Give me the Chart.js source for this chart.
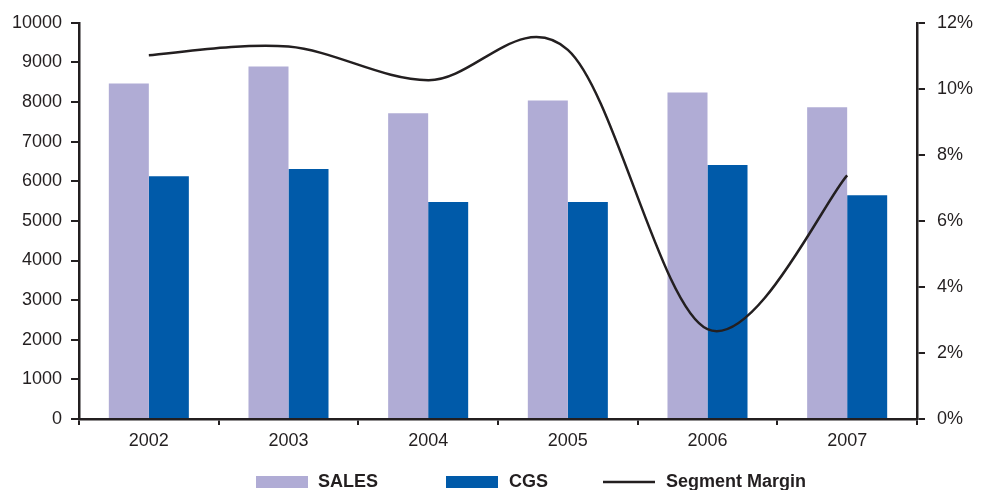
<!DOCTYPE html>
<html>
<head>
<meta charset="utf-8">
<script src="https://cdn.jsdelivr.net/npm/chart.js@4/dist/chart.umd.min.js"></script>
<style>
  html, body { margin: 0; padding: 0; background: #ffffff; }
  #wrap { width: 987px; height: 490px; position: relative; }
</style>
</head>
<body>
<div id="wrap"><canvas id="c" width="987" height="490"></canvas></div>
<script>
const categories = ['2002', '2003', '2004', '2005', '2006', '2007'];
const sales = [8470, 8900, 7720, 8040, 8240, 7870];
const cgs = [6130, 6310, 5480, 5480, 6410, 5650];
const segmentMargin = [0.1102, 0.1128, 0.1026, 0.1118, 0.0272, 0.0738];
const leftTicks = [0, 1000, 2000, 3000, 4000, 5000, 6000, 7000, 8000, 9000, 10000];
const rightTicks = [0, 0.02, 0.04, 0.06, 0.08, 0.10, 0.12];
const seriesNames = ['SALES', 'CGS', 'Segment Margin'];

const INK = '#231f20';
const SALES_COLOR = '#b0acd5';
const CGS_COLOR = '#005aa9';
const FONT = 'Liberation Sans, Arial, sans-serif';

// Excel-style smoothing: uniform Catmull-Rom control points on the library's own point positions
const smoothPlugin = {
  id: 'excelSmooth',
  beforeDatasetDraw(chart, args) {
    const meta = args.meta;
    if (meta.type !== 'line') return;
    const line = meta.dataset;
    line.updateControlPoints(chart.chartArea, 'x');
    const pts = meta.data;
    const n = pts.length;
    for (let i = 0; i < n; i++) {
      const p = pts[i];
      const prev = pts[Math.max(0, i - 1)];
      const next = pts[Math.min(n - 1, i + 1)];
      const dx = (next.x - prev.x) / 6;
      const dy = (next.y - prev.y) / 6;
      p.cp1x = p.x - dx; p.cp1y = p.y - dy;
      p.cp2x = p.x + dx; p.cp2y = p.y + dy;
    }
    line._path = undefined;
  }
};

const legendPlugin = {
  id: 'customLegend',
  afterDraw(chart) {
    const ctx = chart.ctx;
    ctx.save();
    ctx.font = 'bold 18px ' + FONT;
    ctx.textBaseline = 'middle';
    const y = 482;
    ctx.fillStyle = SALES_COLOR;
    ctx.fillRect(256, 476, 52, 12);
    ctx.fillStyle = INK;
    ctx.fillText(seriesNames[0], 318, y);
    ctx.fillStyle = CGS_COLOR;
    ctx.fillRect(446, 476, 52, 12);
    ctx.fillStyle = INK;
    ctx.fillText(seriesNames[1], 509, y);
    ctx.strokeStyle = INK;
    ctx.lineWidth = 2.5;
    ctx.beginPath();
    ctx.moveTo(603, y);
    ctx.lineTo(655, y);
    ctx.stroke();
    ctx.fillText(seriesNames[2], 666, y);
    ctx.restore();
  }
};

new Chart(document.getElementById('c'), {
  data: {
    labels: categories,
    datasets: [
      {
        type: 'line',
        label: seriesNames[2],
        data: segmentMargin,
        yAxisID: 'y1',
        borderColor: INK,
        borderWidth: 2.5,
        pointRadius: 0,
        tension: 0.4,
        fill: false,
        order: 0
      },
      {
        type: 'bar',
        label: seriesNames[0],
        data: sales,
        yAxisID: 'y',
        backgroundColor: SALES_COLOR,
        borderWidth: 0,
        categoryPercentage: 0.573,
        barPercentage: 1.0,
        order: 1
      },
      {
        type: 'bar',
        label: seriesNames[1],
        data: cgs,
        yAxisID: 'y',
        backgroundColor: CGS_COLOR,
        borderWidth: 0,
        categoryPercentage: 0.573,
        barPercentage: 1.0,
        order: 1
      }
    ]
  },
  options: {
    responsive: false,
    animation: false,
    devicePixelRatio: 1,
    layout: { padding: { top: 14, bottom: 40, left: 0, right: 0 } },
    plugins: {
      legend: { display: false },
      tooltip: { enabled: false }
    },
    scales: {
      x: {
        type: 'category',
        offset: true,
        grid: {
          display: true,
          offset: true,
          drawOnChartArea: false,
          drawTicks: true,
          tickLength: 6,
          color: INK,
          lineWidth: 2
        },
        border: { display: true, color: INK, width: 2.5 },
        ticks: { color: INK, font: { family: FONT, size: 18 }, padding: 5 },
        afterFit(scale) { scale.height = 31; }
      },
      y: {
        type: 'linear',
        position: 'left',
        min: 0,
        max: 10000,
        afterBuildTicks(scale) { scale.ticks = leftTicks.map(v => ({ value: v })); },
        grid: {
          display: true,
          drawOnChartArea: false,
          drawTicks: true,
          tickLength: 8,
          color: INK,
          lineWidth: 2
        },
        border: { display: true, color: INK, width: 2.5 },
        ticks: { color: INK, font: { family: FONT, size: 18 }, padding: 9, callback: v => String(v) },
        afterFit(scale) { scale.width = 79; }
      },
      y1: {
        type: 'linear',
        position: 'right',
        min: 0,
        max: 0.12,
        afterBuildTicks(scale) { scale.ticks = rightTicks.map(v => ({ value: v })); },
        grid: {
          display: true,
          drawOnChartArea: false,
          drawTicks: true,
          tickLength: 8,
          color: INK,
          lineWidth: 2
        },
        border: { display: true, color: INK, width: 2.5 },
        ticks: { color: INK, font: { family: FONT, size: 18 }, padding: 12, callback: v => Math.round(v * 100) + '%' },
        afterFit(scale) { scale.width = 70; }
      }
    }
  },
  plugins: [smoothPlugin, legendPlugin]
});
</script>
</body>
</html>
